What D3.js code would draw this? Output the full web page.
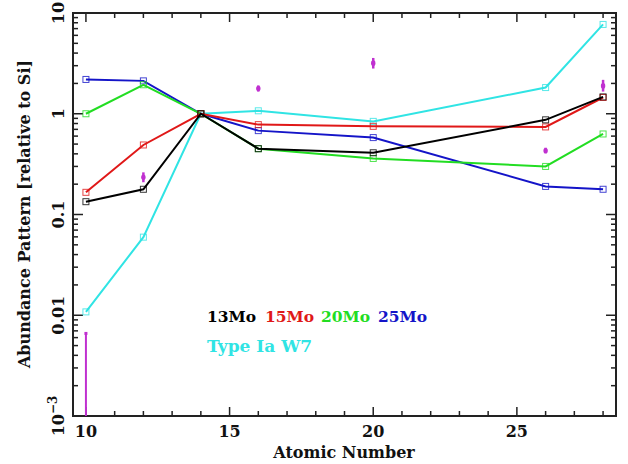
<!DOCTYPE html>
<html><head><meta charset="utf-8">
<script src="https://cdn.jsdelivr.net/npm/d3@7"></script>
<style>body{margin:0;background:#fff}svg text{font-family:"DejaVu Serif",serif;font-weight:bold}</style>
</head><body><svg id="c" width="628" height="464"></svg>
<script>
const Z = [10, 12, 14, 16, 20, 26, 28];
const m13 = [0.134, 0.178, 1, 0.45, 0.41, 0.87, 1.47];
const m15 = [0.166, 0.49, 1, 0.78, 0.75, 0.74, 1.45];
const m20 = [1.0, 1.94, 1, 0.45, 0.36, 0.30, 0.63];
const m25 = [2.19, 2.12, 1, 0.68, 0.58, 0.19, 0.178];
const w7  = [0.0108, 0.0596, 1, 1.07, 0.84, 1.82, 7.7];
const seriesNames = ["13Mo", "15Mo", "20Mo", "25Mo", "Type Ia W7"];
const seriesColors = ["#000000", "#e01818", "#22dd22", "#1414c8", "#30e4e4"];
const obsZ   = [10, 12, 16, 20, 26, 28];
const obsVal = [0.0015, 0.234, 1.78, 3.18, 0.43, 1.89];
const obsLo  = [0.0001, 0.209, 1.66, 2.81, 0.407, 1.66];
const obsHi  = [0.0066, 0.262, 1.91, 3.58, 0.46, 2.17];
const xTicks = [10, 15, 20, 25];
const yTicks = [10, 1, 0.1, 0.01, 0.001];
const yTickLabels = ["10", "1", "0.1", "0.01", "10^-3"];

const svg = d3.select("#c");
const L = 73, R = 616, T = 13, B = 416;
const x = d3.scaleLinear().domain([9.55, 28.45]).range([L, R]);
const y = d3.scaleLog().domain([0.001, 10]).range([B, T]);

svg.append("clipPath").attr("id","clip").append("rect").attr("x",L).attr("y",T).attr("width",R-L).attr("height",B-T);

// ticks
const ax = svg.append("g").attr("stroke","#222").attr("stroke-width",1.5);
for (let z = 10; z <= 28; z++) {
  const len = z % 5 === 0 ? 9 : 5;
  ax.append("line").attr("x1",x(z)).attr("x2",x(z)).attr("y1",B).attr("y2",B-len);
  ax.append("line").attr("x1",x(z)).attr("x2",x(z)).attr("y1",T).attr("y2",T+len);
}
for (let e = -3; e < 1; e++) {
  for (let k = 1; k <= 9; k++) {
    const v = k * Math.pow(10, e);
    const len = k === 1 ? 10 : 5;
    ax.append("line").attr("x1",L).attr("x2",L+len).attr("y1",y(v)).attr("y2",y(v));
    ax.append("line").attr("x1",R).attr("x2",R-len).attr("y1",y(v)).attr("y2",y(v));
  }
}
svg.append("rect").attr("x",L).attr("y",T).attr("width",R-L).attr("height",B-T)
  .attr("fill","none").attr("stroke","#222").attr("stroke-width",2);

// x tick labels
svg.append("g").selectAll("text").data(xTicks).join("text")
  .attr("x", d => x(d)).attr("y", 437).attr("text-anchor","middle")
  .attr("font-size",16).attr("fill","#111").text(d => d);
// y tick labels rotated
const yl = svg.append("g").selectAll("text").data(yTicks).join("text")
  .attr("transform", d => `translate(64,${y(d)}) rotate(-90)`)
  .attr("text-anchor","middle").attr("font-size",16).attr("fill","#111");
yl.each(function(d, i) {
  const t = d3.select(this), lab = yTickLabels[i];
  if (lab.includes("^")) {
    const [b, s] = lab.split("^");
    t.append("tspan").text(b);
    t.append("tspan").attr("dy",-7).attr("font-size",12).text(s.replace("-","\u2212"));
  } else t.text(lab);
});
// axis titles
svg.append("text").attr("x", 344).attr("y", 458).attr("text-anchor","middle")
  .attr("font-size",16).attr("fill","#111").text("Atomic Number");
svg.append("text").attr("transform","translate(30,214) rotate(-90)").attr("text-anchor","middle")
  .attr("font-size",16).attr("fill","#111").text("Abundance Pattern [relative to Si]");

const plot = svg.append("g").attr("clip-path","url(#clip)");
const allSeries = [m13, m15, m20, m25, w7];
const line = d3.line().x((d,i) => x(Z[i])).y(d => y(d));
const order = [4, 3, 2, 1, 0];
order.forEach(si => {
  const vals = allSeries[si], col = seriesColors[si];
  plot.append("path").attr("d", line(vals)).attr("fill","none").attr("stroke",col).attr("stroke-width",2);
  plot.append("g").selectAll("rect").data(vals).join("rect")
    .attr("x",(d,i)=>x(Z[i])-3).attr("y",d=>y(d)-3).attr("width",6).attr("height",6)
    .attr("fill","none").attr("stroke",col).attr("stroke-width",1).attr("opacity",0.8);
});

// observations
const obs = plot.append("g");
obsZ.forEach((z, i) => {
  obs.append("line").attr("x1",x(z)).attr("x2",x(z)).attr("y1",y(obsLo[i])).attr("y2",y(obsHi[i]))
    .attr("stroke","#c030d0").attr("stroke-width", i === 0 ? 2 : 2.5);
  if (i > 0) obs.append("ellipse").attr("cx",x(z)).attr("cy",y(obsVal[i])).attr("rx",2.2).attr("ry",2.8).attr("fill","#c030d0");
  else obs.append("rect").attr("x",x(z)-1.5).attr("y",y(obsHi[i])-1.5).attr("width",3).attr("height",3).attr("fill","#c030d0");
});

// legend
const leg1 = [[0,207],[1,265],[2,321],[3,378]];
leg1.forEach(([si, lx]) => {
  svg.append("text").attr("x",lx).attr("y",322).attr("font-size",15.5).attr("fill",seriesColors[si]).text(seriesNames[si]);
});
svg.append("text").attr("x",207).attr("y",352).attr("font-size",17).attr("fill",seriesColors[4]).text(seriesNames[4]);
</script></body></html>
